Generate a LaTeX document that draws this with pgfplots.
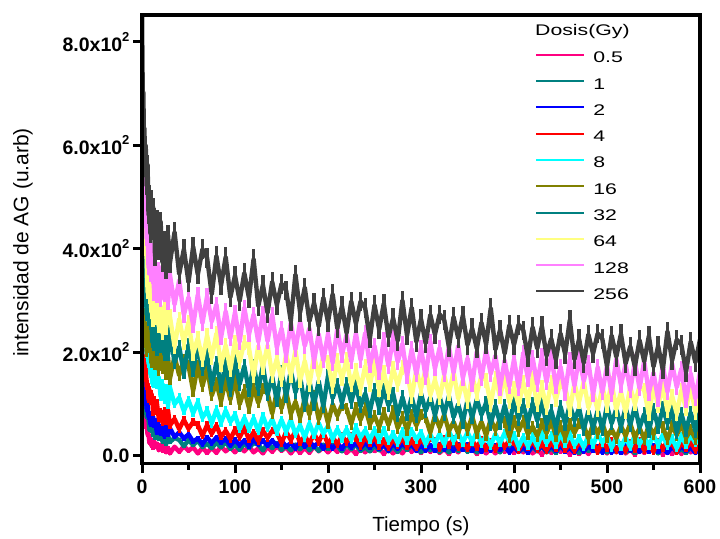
\documentclass[border=0pt]{standalone}
\usepackage{pgfplots}
\pgfplotsset{compat=1.18}
\usepackage{pgfplotstable}
\usepackage{fontspec}
\setmainfont{Liberation Sans}
\newfontfamily\legfont[FakeStretch=1.38]{Liberation Sans}
\definecolor{c05}{RGB}{255,0,128}
\definecolor{c1}{RGB}{0,128,128}
\definecolor{c2}{RGB}{0,0,255}
\definecolor{c4}{RGB}{255,0,0}
\definecolor{c8}{RGB}{0,255,255}
\definecolor{c16}{RGB}{128,128,0}
\definecolor{c32}{RGB}{0,128,128}
\definecolor{c64}{RGB}{255,255,128}
\definecolor{c128}{RGB}{255,128,255}
\definecolor{c256}{RGB}{64,64,64}
\newcommand{\sq}{\raisebox{9.5pt}{\fontsize{13}{13}\selectfont 2}}
\pgfplotsset{eb/.style={error bars/.cd, y dir=both, y fixed=#1, error mark=none, error bar style={line width=3.4pt}}}
\pgfplotstableread{
t m05 m1 m2 m4 m8 m16 m32 m64 m128 m256
0 227 201 220 364 340 259 487 542 668 860
0.5 171 187 207 335 340 278 484 552 686 756
1 153 152 167 269 288 237 409 464 596 673
1.5 114 150 172 255 297 275 434 479 607 702
2 105 118 141 211 250 235 369 415 532 608
2.5 80 118 143 216 273 273 397 451 562 633
3 83 94 116 180 232 219 328 399 492 562
4 56 97 119 178 237 248 338 414 511 599
5 58 74 90 133 197 202 273 384 420 522
6 40 79 100 139 216 246 321 316 434 562
7 42 70 74 108 178 209 264 360 364 466
8 24 49 82 127 200 240 303 307 414 504
9 32 63 61 105 158 228 255 342 350 430
10 19 48 80 120 173 180 280 278 396 494
11 29 60 60 111 140 229 220 306 347 435
12 15 39 75 83 171 191 263 262 379 480
13 28 48 58 108 139 227 216 309 314 460
14 16 34 68 86 167 176 259 266 365 386
16 23 47 44 102 136 201 206 312 310 456
18 10 32 60 72 152 165 262 250 359 397
20 21 46 42 85 114 207 212 286 302 452
22 9 27 57 64 139 169 245 237 366 374
24 21 37 37 87 107 210 196 288 312 415
26 6 22 59 66 131 157 243 247 350 361
28 15 39 40 87 97 190 195 283 297 426
30 4 26 53 58 132 148 240 269 350 372
35 17 34 36 71 99 192 180 211 292 432
40 7 30 45 51 112 155 210 264 339 351
45 18 18 33 69 86 186 160 218 272 399
50 9 30 41 52 107 174 214 258 306 335
55 16 20 27 65 82 125 165 197 251 404
60 4 29 33 59 103 174 210 227 311 350
65 15 16 22 38 73 134 166 185 256 399
70 5 23 35 59 87 169 194 232 308 382
75 15 14 24 42 62 116 136 189 259 312
80 5 25 35 58 89 141 180 236 292 386
85 18 16 25 36 64 105 134 175 228 329
90 8 26 32 48 87 146 177 213 279 384
95 16 13 19 32 65 108 126 166 227 306
100 6 21 30 50 79 148 184 220 277 348
105 17 11 20 35 51 99 138 181 220 299
110 8 23 29 53 73 127 173 219 286 353
115 18 15 18 31 51 92 126 208 234 305
120 6 24 31 45 72 132 174 154 273 380
125 14 21 21 28 47 102 128 212 220 289
130 4 10 29 48 76 130 174 170 274 330
135 17 23 19 34 53 121 118 213 221 276
140 7 14 29 48 70 81 152 155 273 336
145 18 24 19 44 46 123 106 187 209 291
150 9 11 29 24 69 91 162 146 246 332
155 16 18 17 46 46 124 115 196 194 319
160 4 10 24 30 69 80 164 155 257 260
165 15 21 14 47 41 104 122 203 205 350
170 5 12 27 25 58 73 153 144 259 277
175 15 23 17 38 35 110 97 183 212 325
180 5 10 27 23 62 79 144 137 246 260
185 18 18 18 42 39 115 99 192 183 295
190 8 9 25 26 63 70 144 153 235 250
195 16 21 13 44 42 98 95 192 184 305
200 6 13 24 22 57 63 154 181 235 258
205 16 21 14 36 32 99 111 133 179 312
210 7 19 24 21 51 77 137 184 246 246
215 17 8 13 38 33 98 102 148 194 289
220 5 21 26 26 51 91 138 186 234 237
225 13 12 16 38 30 61 103 136 182 298
230 3 21 24 34 54 93 138 164 236 255
235 16 9 14 18 35 69 95 129 185 298
240 6 16 25 36 49 93 120 173 237 285
245 17 8 15 23 30 60 85 137 174 226
250 8 19 25 36 50 77 127 179 212 291
255 15 10 13 18 31 55 92 128 161 244
260 3 21 20 29 50 83 128 161 224 294
265 14 8 10 16 28 59 97 121 173 229
270 4 17 23 32 42 86 120 169 227 266
275 14 7 13 20 24 53 78 136 181 222
280 4 19 23 35 47 75 113 170 216 300
285 17 11 15 17 28 49 79 160 154 232
290 7 19 21 29 48 79 113 114 206 286
295 15 17 9 15 31 58 76 165 157 220
300 5 6 20 32 44 79 120 129 208 264
305 16 19 10 20 22 73 86 167 152 217
310 7 10 20 33 41 44 112 117 220 272
315 17 20 9 29 23 77 78 146 168 234
320 5 7 22 13 42 54 114 111 208 273
325 13 15 12 32 22 79 80 155 157 262
330 3 6 20 19 47 47 115 119 211 210
335 16 18 10 33 28 65 74 162 160 268
340 6 9 21 15 43 43 99 110 212 227
345 17 20 11 25 25 71 65 145 150 271
350 8 7 22 13 45 48 107 104 188 214
355 15 16 9 29 26 76 73 153 137 246
360 3 6 17 16 46 43 109 120 201 207
365 14 18 7 31 23 65 79 154 149 257
370 4 10 20 13 37 39 102 145 204 215
375 14 19 10 26 19 70 61 99 158 285
380 4 17 20 11 42 49 96 150 193 205
385 17 6 11 29 24 71 63 114 131 243
390 7 19 18 17 44 65 97 153 184 197
395 15 10 6 29 27 36 60 103 134 252
400 5 20 17 26 40 68 105 131 186 214
405 15 7 7 10 17 47 71 97 131 253
410 6 14 17 28 36 67 98 141 199 242
415 16 6 6 15 18 41 64 106 148 190
420 4 17 20 29 37 56 101 149 189 248
425 12 8 10 12 18 38 67 98 138 207
430 2 19 18 22 42 62 102 132 193 250
435 15 6 8 10 24 43 61 92 142 193
440 5 15 19 26 39 66 87 141 195 226
445 16 5 9 13 21 38 53 108 133 186
450 7 18 20 29 41 57 95 142 172 236
455 14 10 8 11 23 35 61 133 121 196
460 2 18 15 23 42 61 98 88 186 262
465 13 16 6 9 20 44 68 139 135 186
470 3 5 18 27 34 62 91 104 190 225
475 13 18 8 15 16 58 50 143 144 179
480 3 9 19 28 39 33 86 93 180 234
485 16 19 10 25 21 61 53 122 118 197
490 6 7 17 8 41 42 87 88 171 236
495 14 14 6 27 25 62 51 132 122 225
500 4 6 16 14 37 36 96 97 174 173
505 15 16 6 28 15 51 62 140 119 232
510 6 7 16 10 34 33 90 89 187 191
515 16 18 5 21 16 57 56 123 136 235
520 4 6 19 9 35 38 93 84 177 178
525 12 14 9 25 16 62 59 132 126 211
530 2 5 17 12 40 34 95 100 181 172
535 15 17 7 28 22 53 54 134 130 223
540 5 9 18 10 37 32 80 126 183 182
545 16 18 8 22 19 58 46 80 121 231
550 7 16 19 8 39 41 89 132 160 172
555 14 4 7 26 21 59 55 96 109 212
560 2 17 14 14 40 55 92 135 174 166
565 13 9 5 27 18 31 62 86 123 240
570 3 18 17 23 33 58 86 115 178 184
575 13 6 7 7 14 39 45 81 132 224
580 3 13 18 26 38 60 81 126 168 214
585 16 5 9 13 20 34 48 90 106 162
590 6 16 16 27 40 50 83 134 159 220
595 14 7 5 10 24 32 47 83 110 180
600 4 18 15 20 37 56 92 118 162 224
}\data

\begin{document}
\begin{tikzpicture}
\path[use as bounding box] (0pt,0pt) rectangle (720pt,538pt);
\begin{axis}[
  at={(142pt,74.5pt)}, anchor=south west,
  scale only axis, width=558pt, height=448.5pt,
  xmin=0, xmax=600, ymin=-15.5, ymax=852,
  axis on top,
  axis line style={line width=3.6pt},
  tick style={line width=3pt, black},
  tick align=outside,
  major tick length=9pt, minor tick length=6pt,
  xtick={0,100,...,600}, minor x tick num=1,
  ytick={0,200,400,600,800},
  yticklabels={0.0, 2.0x10\sq, 4.0x10\sq, 6.0x10\sq, 8.0x10\sq},
  xtick pos=left, ytick pos=left,
  /pgf/number format/assume math mode=true,
  xticklabel style={font=\bfseries\fontsize{19.5}{20}\selectfont, yshift=-4pt},
  yticklabel style={font=\bfseries\fontsize{19.5}{20}\selectfont},
  xlabel={Tiempo (s)},
  xlabel style={at={(axis description cs:0.5,-0.1527)}, anchor=base, inner sep=0pt, font=\fontsize{20.5}{22}\selectfont},
  ylabel={intensidad de AG (u.arb)},
  ylabel style={at={(axis description cs:-0.2038,0.4928)}, anchor=base, inner sep=0pt, font=\fontsize{21}{22}\selectfont},
  legend style={at={(axis description cs:0.7043,0.9186)}, anchor=north west, draw=none, fill=none, inner sep=0pt, row sep=15.3pt, nodes={inner sep=0pt, text height=11pt, text depth=0pt}, font=\legfont\fontsize{15.4}{16}\selectfont},
  legend cell align=left,
  legend image code/.code={\draw[#1, line width=2pt] (0pt,2.5pt) -- (48pt,2.5pt); \path (55pt,0pt);},
  every axis plot/.append style={line width=4.4pt, line join=round},
]
\addplot[c05, eb=4] table[x=t,y=m05]{\data};
\addlegendentry{0.5}
\addplot[c1, eb=4] table[x=t,y=m1]{\data};
\addlegendentry{1}
\addplot[c2, eb=5] table[x=t,y=m2]{\data};
\addlegendentry{2}
\addplot[c4, eb=7] table[x=t,y=m4]{\data};
\addlegendentry{4}
\addplot[c8, eb=8] table[x=t,y=m8]{\data};
\addlegendentry{8}
\addplot[c16, eb=11] table[x=t,y=m16]{\data};
\addlegendentry{16}
\addplot[c32, eb=13] table[x=t,y=m32]{\data};
\addlegendentry{32}
\addplot[c64, eb=14] table[x=t,y=m64]{\data};
\addlegendentry{64}
\addplot[c128, eb=15] table[x=t,y=m128]{\data};
\addlegendentry{128}
\addplot[c256, eb=19] table[x=t,y=m256]{\data};
\addlegendentry{256}
\node[anchor=base west, inner sep=0pt, font=\legfont\fontsize{15.4}{16}\selectfont] at (axis description cs:0.7043,0.9543) {Dosis(Gy)};
\end{axis}
\end{tikzpicture}
\end{document}
